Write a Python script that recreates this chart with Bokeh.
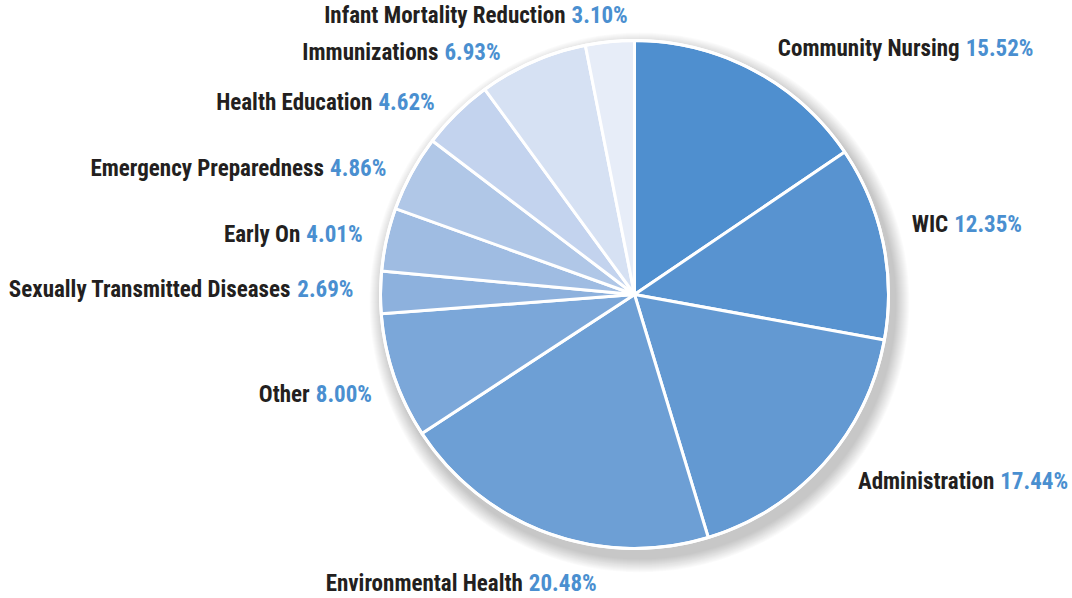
import numpy as np
from bokeh.plotting import figure
from bokeh.models import Range1d, ColumnDataSource
from bokeh.core.properties import value
from bokeh.embed import file_html
from bokeh.resources import INLINE

# ---- data ----
categories = ["Community Nursing", "WIC", "Administration", "Environmental Health",
              "Other", "Sexually Transmitted Diseases", "Early On",
              "Emergency Preparedness", "Health Education", "Immunizations",
              "Infant Mortality Reduction"]
shares = [15.52, 12.35, 17.44, 20.48, 8.00, 2.69, 4.01, 4.86, 4.62, 6.93, 3.10]
colors = ["#4f8fcf", "#5893d0", "#6399d2", "#6d9fd5", "#7ba7d9", "#8db1dd",
          "#9fbce2", "#b0c7e7", "#c3d3ee", "#d6e1f3", "#e7edf8"]

# ---- layout (screen px, y downward) ----
CX, CY, R = 634, 294, 254
# label right-edge offsets from the slice's mid-angle rim point
label_offsets = [(280, -22), (139, -18), (244, 18), (49, 50), (-22, 18), (-27, -3),
                 (-24, -5), (-25, -5), (-22, -11), (-32, -9), (18, -26)]
FS = 23
DARK = "#231f20"
BLUE = "#4a8fd0"
FONT = "'Roboto Condensed', 'DejaVu Sans Condensed', Roboto, sans-serif"

W, H = 1072, 598
p = figure(width=W, height=H, output_backend="svg", toolbar_location=None,
           x_range=Range1d(0, W), y_range=Range1d(-H, 0),
           min_border=0, outline_line_color=None, background_fill_color="white")
p.axis.visible = False
p.grid.visible = False

vals = np.array(shares)
frac = vals / vals.sum()
cum = np.concatenate([[0], np.cumsum(frac)])
start = np.pi / 2 - 2 * np.pi * cum[:-1]
end = np.pi / 2 - 2 * np.pi * cum[1:]

# soft drop shadow (offset down-right)
for k in range(14):
    p.circle(x=CX + 5, y=-(CY + 8), radius=R + 16 - k, fill_color="#000000",
             fill_alpha=0.016, line_color=None)

src = ColumnDataSource(dict(start=start, end=end, color=colors, cat=categories))
p.wedge(x=CX, y=-CY, radius=R, start_angle="start", end_angle="end",
        direction="clock", fill_color="color", line_color="white", line_width=3,
        source=src)
p.circle(x=CX, y=-CY, radius=R, fill_color=None, line_color="white", line_width=3)

# labels: name (dark) + percentage (blue), right-aligned at anchor
digit_w = 0.50 * FS
dot_w = 0.24 * FS
pct_w = 0.65 * FS
space_w = 0.32 * FS

mid = (cum[:-1] + cum[1:]) / 2 * 2 * np.pi
names_x, names_y, names_t = [], [], []
pcts_x, pcts_y, pcts_t = [], [], []
for i, (cat, v) in enumerate(zip(categories, shares)):
    rx = CX + R * np.sin(mid[i])
    ry = CY - R * np.cos(mid[i])
    ax = rx + label_offsets[i][0]
    ay = ry + label_offsets[i][1]
    pt = f"{v:.2f}%"
    nd = sum(c.isdigit() for c in pt)
    w = nd * digit_w + dot_w + pct_w
    pcts_x.append(ax); pcts_y.append(-ay); pcts_t.append(pt)
    names_x.append(ax - w - space_w); names_y.append(-ay); names_t.append(cat)

p.text(x=names_x, y=names_y, text=names_t, text_align="right", text_baseline="middle",
       text_font=value(FONT), text_font_style="bold", text_font_size=f"{FS}px",
       text_color=DARK)
p.text(x=pcts_x, y=pcts_y, text=pcts_t, text_align="right", text_baseline="middle",
       text_font=value(FONT), text_font_style="bold", text_font_size=f"{FS}px",
       text_color=BLUE)

open("out.html", "w").write(file_html(p, INLINE))
